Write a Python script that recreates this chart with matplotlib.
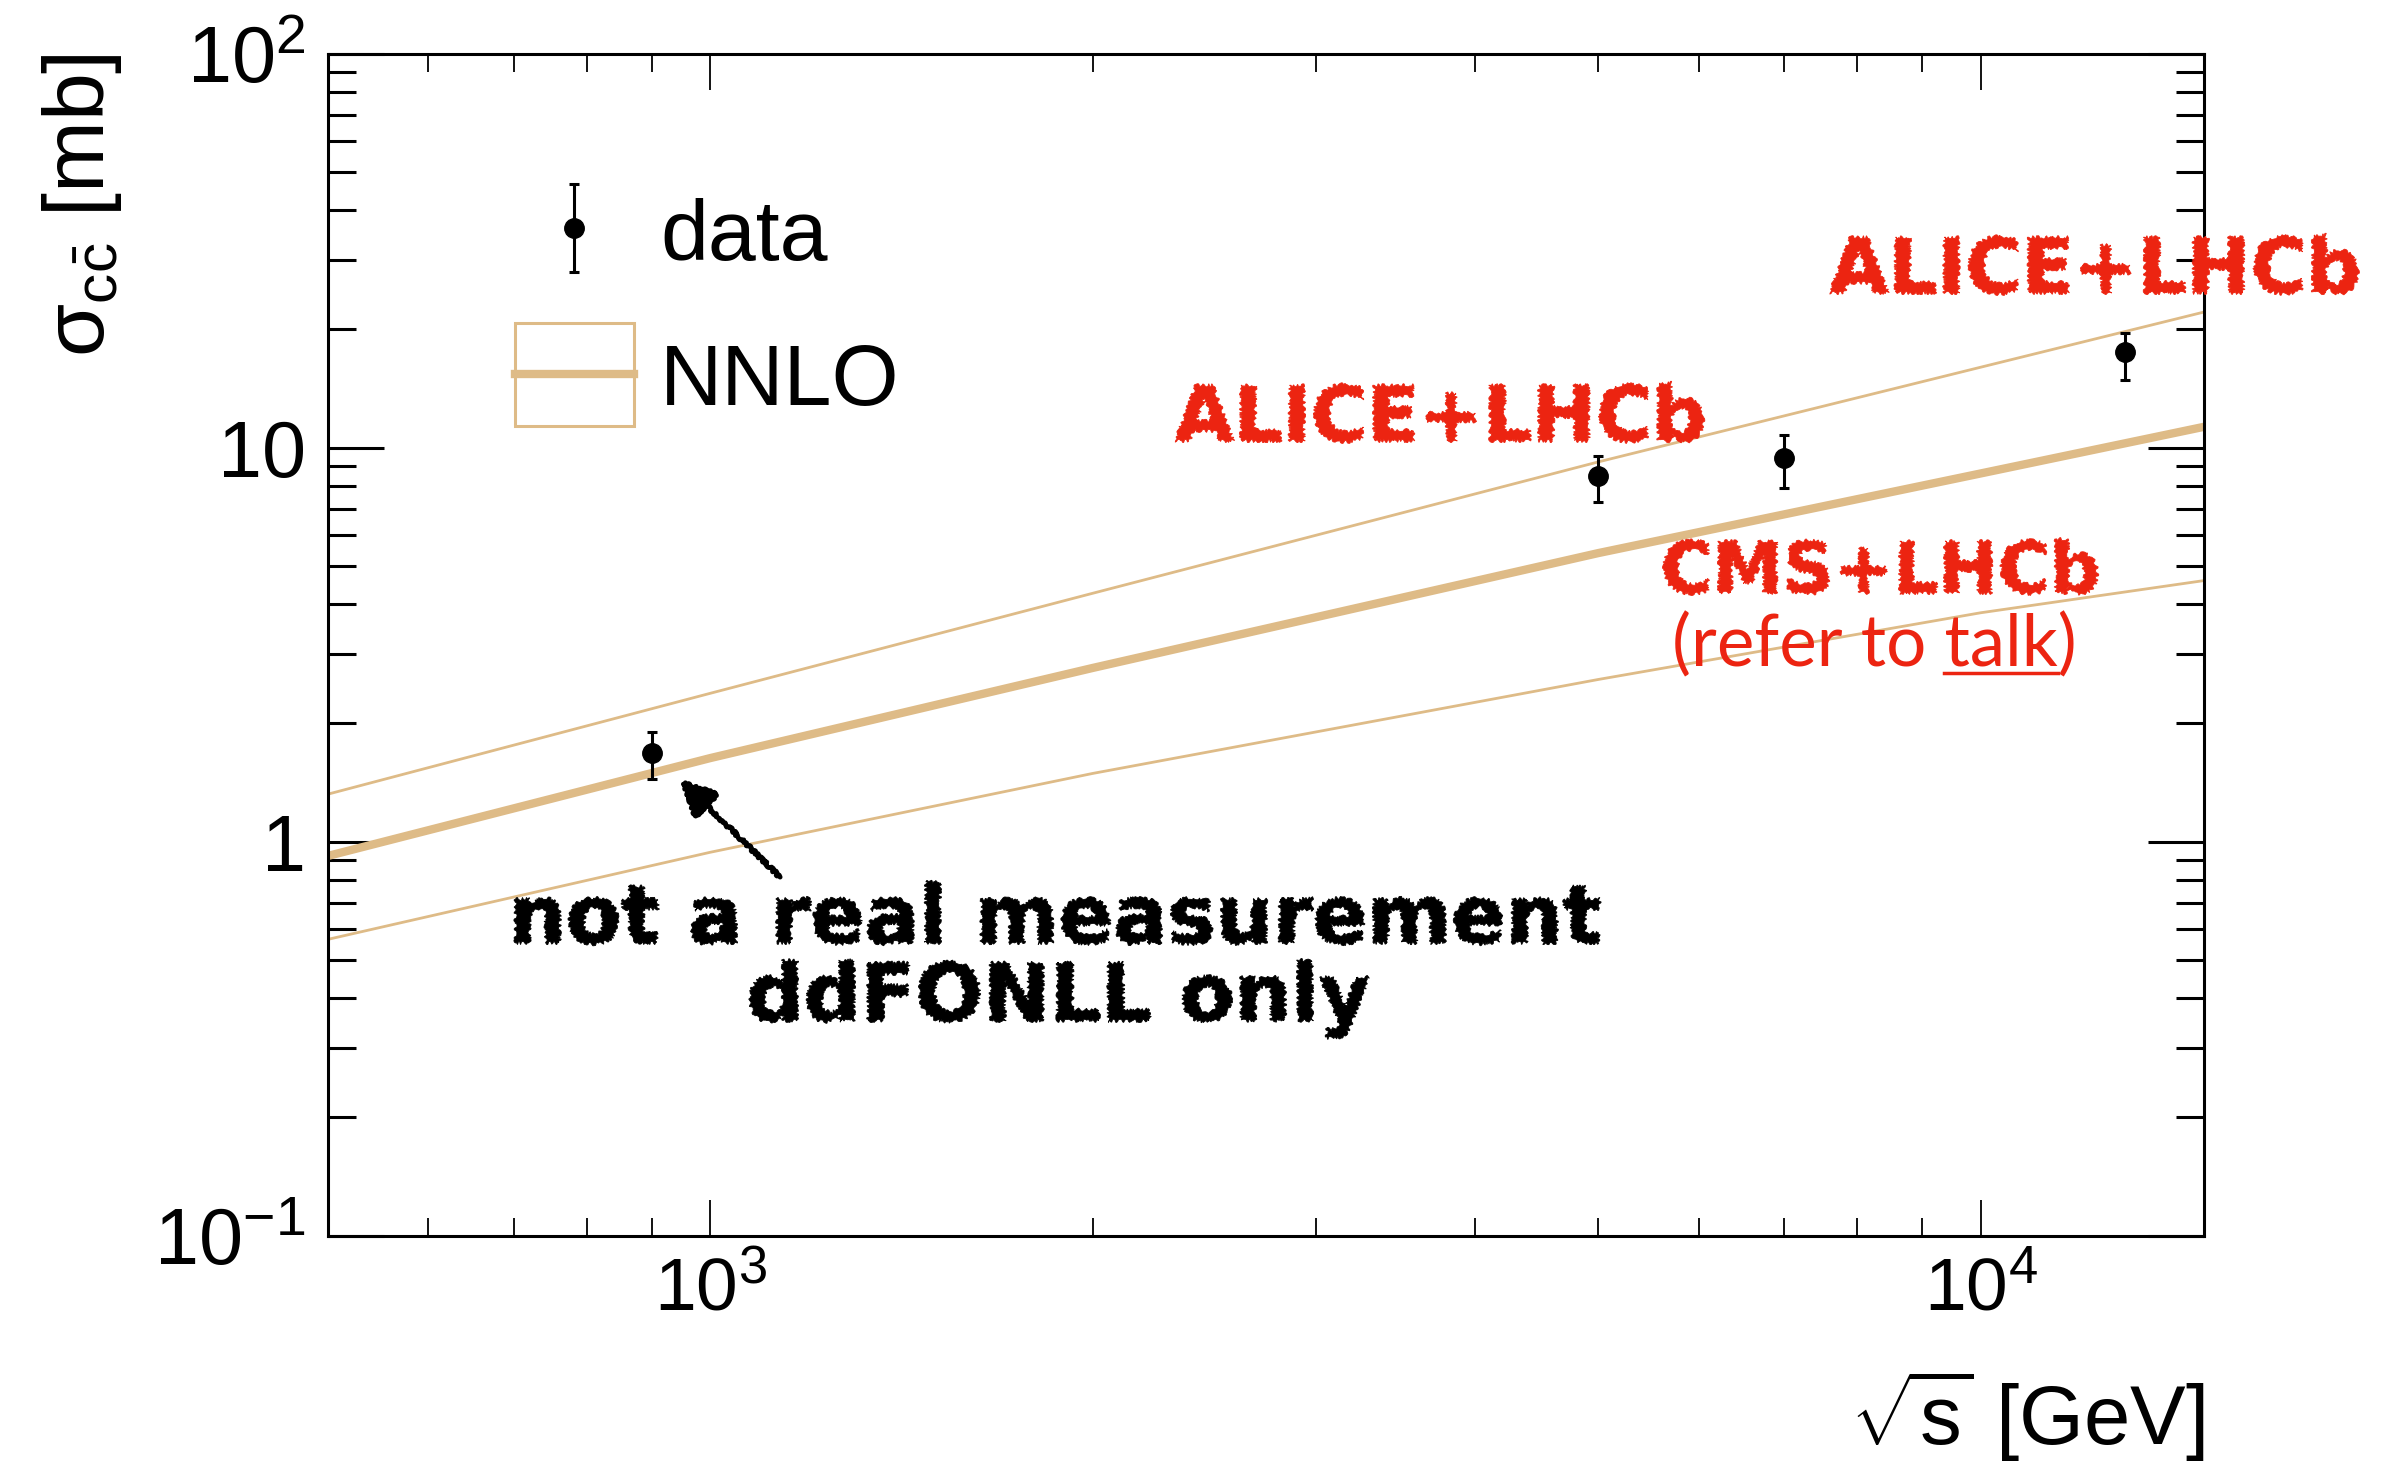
import numpy as np
import matplotlib
matplotlib.use('Agg')
import matplotlib.pyplot as plt
from matplotlib.ticker import LogLocator, NullFormatter
from matplotlib.patches import Rectangle, PathPatch
from matplotlib.lines import Line2D
from matplotlib.textpath import TextPath
from matplotlib.font_manager import FontProperties
from matplotlib.transforms import Affine2D

plt.rcParams['font.family'] = ['Liberation Sans', 'DejaVu Sans']
plt.rcParams['mathtext.fontset'] = 'custom'
plt.rcParams['mathtext.rm'] = 'Liberation Sans'
plt.rcParams['mathtext.it'] = 'Liberation Sans:italic'
plt.rcParams['mathtext.bf'] = 'Liberation Sans:bold'
plt.rcParams['mathtext.default'] = 'regular'

# NNLO prediction: central value and upper/lower edges of the scale band
sqrts_nnlo = [500, 1000, 2000, 5000, 10000, 15000]
nnlo_central = [0.92, 1.63, 2.76, 5.4, 8.6, 11.3]
nnlo_high = [1.32, 2.38, 4.27, 9.2, 16.0, 22.1]
nnlo_low = [0.565, 0.94, 1.49, 2.58, 3.81, 4.6]

# total charm cross section points [mb]
sqrts_data = [900, 5000, 7000, 13000]
sigma_data = [1.68, 8.48, 9.40, 17.46]
err_up = [0.22, 1.05, 1.35, 2.13]
err_down = [0.24, 1.18, 1.52, 2.58]

ytick_vals = [0.1, 1, 10, 100]
ytick_labels = [r'$10^{-1}$', '1', '10', r'$10^{2}$']
xtick_vals = [1e3, 1e4]
xtick_labels = [r'$10^{3}$', r'$10^{4}$']

tan = '#debb87'
red = '#ec2411'

fig = plt.figure(figsize=(23.83, 14.70), dpi=100)
ax = fig.add_axes([0.1376, 0.1594, 0.7874, 0.8041])

ax.plot(sqrts_nnlo, nnlo_high, color=tan, lw=2.0)
ax.plot(sqrts_nnlo, nnlo_low, color=tan, lw=2.0)
ax.plot(sqrts_nnlo, nnlo_central, color=tan, lw=6.0)
ax.errorbar(sqrts_data, sigma_data, yerr=[err_down, err_up], fmt='o', color='black',
            ms=14, elinewidth=2.2, capsize=3.6, capthick=2.2)

ax.set_xscale('log')
ax.set_yscale('log')
ax.set_xlim(500, 15000)
ax.set_ylim(0.1, 100)

ax.set_yticks(ytick_vals)
ax.set_yticklabels(ytick_labels)
ax.set_xticks(xtick_vals)
ax.set_xticklabels(xtick_labels)
ax.xaxis.set_minor_locator(LogLocator(base=10, subs=np.arange(2, 10)))
ax.yaxis.set_minor_locator(LogLocator(base=10, subs=np.arange(2, 10)))
ax.xaxis.set_minor_formatter(NullFormatter())
ax.yaxis.set_minor_formatter(NullFormatter())

ax.tick_params(axis='both', which='both', direction='in', top=True, right=True)
ax.tick_params(axis='y', which='major', length=40, width=2.2, labelsize=57, pad=16)
ax.tick_params(axis='y', which='minor', length=20, width=2.2)
ax.tick_params(axis='x', which='major', length=26, width=1.3, labelsize=54, pad=14)
ax.tick_params(axis='x', which='minor', length=13, width=1.3)
for sp in ax.spines.values():
    sp.set_linewidth(2.2)

# axis titles, right/top aligned as in ROOT
fig.text(2204 / 2383, 1 - 1444 / 1470, r'$\sqrt{s}$ [GeV]', fontsize=60,
         ha='right', va='baseline')
fig.text(104 / 2383, 1 - 53 / 1470, r'$\sigma_{c\bar{c}}$ [mb]', fontsize=62,
         rotation=90, rotation_mode='anchor', ha='right', va='baseline')

# legend
ax.errorbar([0.1311], [0.8525], yerr=[[0.0373], [0.0372]], fmt='o', color='black',
            ms=14, elinewidth=2.2, capsize=3.6, capthick=2.2, transform=ax.transAxes)
ax.text(0.177, 0.8255, 'data', fontsize=62, transform=ax.transAxes, va='baseline')
ax.add_patch(Rectangle((0.0997, 0.685), 0.0634, 0.0872, transform=ax.transAxes,
                       facecolor='none', edgecolor=tan, lw=2.2))
ax.add_line(Line2D([0.0997, 0.1631], [0.729, 0.729], transform=ax.transAxes,
                   color=tan, lw=6))
ax.text(0.177, 0.7028, 'NNLO', fontsize=62, transform=ax.transAxes, va='baseline')


# marker-pen style labels: glyph outlines with a jittered sketch
def rough_text(x, y, s, size, color, ha='left'):
    fp = FontProperties(family='DejaVu Sans', weight='bold')
    tp = TextPath((0, 0), s, size=size * fig.dpi / 72, prop=fp)
    ext = tp.get_extents()
    x0, y0 = ax.transData.transform((x, y))
    if ha == 'center':
        x0 -= (ext.x0 + ext.x1) / 2
    p = PathPatch(tp, transform=Affine2D().translate(x0, y0),
                  facecolor=color, edgecolor=color, lw=0.6)
    p.set_sketch_params(scale=1.6, length=5, randomness=6)
    fig.add_artist(p)
    return p


rough_text(7603, 24.7, 'ALICE+LHCb', 55, red)
rough_text(2321, 10.4, 'ALICE+LHCb', 55, red)
rough_text(5598, 4.28, 'CMS+LHCb', 51, red)
note = ax.text(5715, 2.79, '(refer to talk)', color=red, fontsize=51, va='baseline',
               family='Lato')

rough_text(1877, 0.553, 'not a real measurement', 58, 'black', ha='center')
rough_text(1884, 0.351, 'ddFONLL only', 57.5, 'black', ha='center')
arr = ax.annotate('', xy=(944, 1.45), xytext=(1139, 0.804),
                  arrowprops=dict(arrowstyle='-|>', color='black', lw=3.5,
                                  mutation_scale=55))
arr.arrow_patch.set_sketch_params(scale=1.5, length=5, randomness=6)

# underline "talk"
fig.canvas.draw()
rend = fig.canvas.get_renderer()
bb = note.get_window_extent(rend)


def text_width(s):
    t = ax.text(0, 0, s, fontsize=51, family='Lato', transform=None)
    w = t.get_window_extent(rend).width
    t.remove()
    return w


w_all = text_width('(refer to talk')
w_talk = text_width('talk')
x_end = bb.x0 + w_all
y_line = bb.y0 + 5
fig.add_artist(Line2D([x_end - w_talk, x_end], [y_line, y_line], transform=None,
                      color=red, lw=2.5))

fig.savefig('out.png', dpi=100)
